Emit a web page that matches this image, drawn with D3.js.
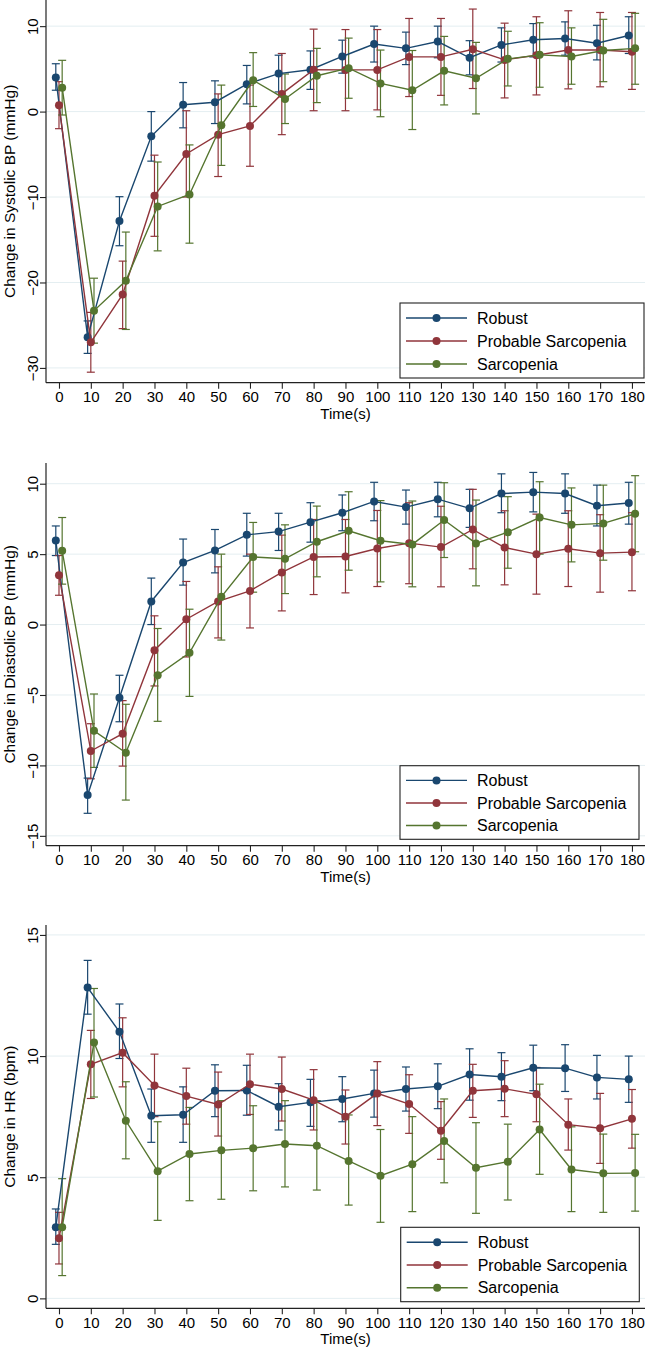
<!DOCTYPE html>
<html>
<head>
<meta charset="utf-8">
<script src="https://cdn.jsdelivr.net/npm/d3@7"></script>
<style>
  html, body { margin: 0; padding: 0; background: #fff; }
  svg { display: block; }
  text { font-family: "Liberation Sans", Arial, Helvetica, sans-serif; fill: #000; }
</style>
</head>
<body>
<svg id="chart" width="646" height="1355"></svg>
<script>
// ---------------- DATA ----------------
const times = [0,10,20,30,40,50,60,70,80,90,100,110,120,130,140,150,160,170,180];
const seriesNames = ["Robust", "Probable Sarcopenia", "Sarcopenia"];
const xTickLabels = [0,10,20,30,40,50,60,70,80,90,100,110,120,130,140,150,160,170,180];

// Systolic BP
const sbpRobust     = [4.0,-26.4,-12.8,-2.9,0.8,1.1,3.2,4.45,4.9,6.45,7.9,7.4,8.2,6.3,7.8,8.4,8.55,8.0,8.9];
const sbpRobustLo   = [2.5,-28.3,-15.7,-5.8,-1.9,-1.4,0.9,2.3,2.6,4.5,5.8,5.5,6.3,4.3,5.8,6.4,6.6,6.05,6.8];
const sbpRobustHi   = [5.6,-24.5,-9.96,0.0,3.4,3.6,5.4,6.6,7.1,8.36,10.0,9.3,10.0,8.3,9.8,10.3,10.5,10.1,11.1];
const sbpProbable   = [0.74,-27.0,-21.4,-9.84,-4.96,-2.7,-1.68,2.07,4.9,4.88,4.88,6.4,6.4,7.3,6.05,6.6,7.2,7.2,7.0];
const sbpProbableLo = [-2.0,-30.5,-25.4,-14.6,-10.0,-7.6,-6.4,-2.7,0.1,0.1,0.2,1.76,1.9,2.7,1.6,1.95,2.66,2.9,2.6];
const sbpProbableHi = [3.5,-23.5,-17.5,-5.1,0.1,2.07,3.1,6.8,9.65,9.6,9.6,10.9,10.9,12.0,10.35,11.1,11.8,11.6,11.6];
const sbpSarco      = [2.8,-23.3,-19.8,-11.1,-9.7,-1.6,3.67,1.48,4.2,5.08,3.3,2.5,4.77,3.9,6.17,6.64,6.45,7.15,7.4];
const sbpSarcoLo    = [-0.4,-27.1,-25.5,-16.3,-15.4,-6.3,0.6,-1.4,1.05,1.56,-0.6,-2.1,0.78,-0.27,3.0,2.85,3.2,3.5,3.2];
const sbpSarcoHi    = [6.0,-19.5,-14.1,-5.9,-3.9,3.1,6.9,4.4,7.4,8.6,7.2,7.15,8.8,8.1,9.4,10.4,9.8,10.8,11.5];

// Diastolic BP
const dbpRobust     = [5.97,-12.1,-5.2,1.64,4.4,5.26,6.37,6.6,7.27,7.94,8.74,8.34,8.9,8.25,9.3,9.4,9.3,8.44,8.63];
const dbpRobustLo   = [4.9,-13.4,-6.9,0.0,2.8,3.67,4.86,5.26,5.85,6.66,7.37,7.13,7.65,6.9,7.94,8.0,7.9,7.0,7.13];
const dbpRobustHi   = [7.0,-10.9,-3.6,3.3,6.07,6.75,7.9,7.9,8.65,9.2,10.1,9.55,10.1,9.6,10.7,10.8,10.7,9.9,10.1];
const dbpProbable   = [3.5,-8.98,-7.75,-1.82,0.38,1.64,2.39,3.7,4.8,4.83,5.4,5.78,5.5,6.75,5.47,5.0,5.38,5.07,5.14];
const dbpProbableLo = [2.08,-10.95,-10.05,-4.36,-2.3,-0.95,-0.24,0.97,2.13,2.25,2.7,2.9,2.68,3.96,2.82,2.16,2.7,2.3,2.4];
const dbpProbableHi = [4.9,-7.04,-5.4,0.62,3.06,4.1,5.0,6.35,7.46,7.46,8.1,8.65,8.4,9.6,8.08,7.84,8.08,7.8,7.94];
const dbpSarco      = [5.24,-7.54,-9.1,-3.6,-2.0,1.97,4.8,4.67,5.88,6.66,5.95,5.69,7.42,5.76,6.56,7.6,7.08,7.18,7.87];
const dbpSarcoLo    = [2.87,-10.14,-12.46,-6.87,-5.1,-1.1,2.3,2.2,3.39,3.86,3.03,2.68,4.76,2.75,4.0,5.0,4.45,4.57,5.17];
const dbpSarcoHi    = [7.6,-4.93,-5.66,-0.28,1.09,5.0,7.25,7.08,8.41,9.43,8.8,8.77,10.07,8.84,9.08,10.14,9.7,9.9,10.57];

// Heart rate
const hrRobust      = [2.94,12.83,11.0,7.54,7.58,8.57,8.58,7.91,8.09,8.23,8.46,8.64,8.75,9.24,9.15,9.52,9.5,9.12,9.04];
const hrRobustLo    = [2.23,11.73,9.9,6.44,6.44,7.5,7.56,6.95,7.1,7.29,7.48,7.73,7.83,8.18,8.16,8.57,8.54,8.23,8.09];
const hrRobustHi    = [3.69,13.95,12.15,8.64,8.73,9.64,9.62,8.86,9.04,9.15,9.42,9.55,9.68,10.3,10.14,10.45,10.47,10.03,10.0];
const hrProbable    = [2.48,9.66,10.14,8.79,8.35,8.0,8.84,8.64,8.18,7.5,8.46,8.02,6.92,8.57,8.65,8.42,7.17,7.02,7.41];
const hrProbableLo  = [1.42,8.25,8.73,7.5,7.19,6.7,7.59,7.32,6.95,6.37,7.13,6.81,5.74,7.47,7.5,7.29,6.12,5.57,6.2];
const hrProbableHi  = [3.55,11.06,11.58,10.08,9.5,9.34,10.08,9.96,9.44,8.6,9.77,9.23,8.12,9.66,9.81,9.53,8.23,8.46,8.62];
const hrSarco       = [2.94,10.56,7.33,5.25,5.96,6.11,6.2,6.37,6.3,5.67,5.06,5.54,6.49,5.39,5.64,6.97,5.32,5.16,5.17];
const hrSarcoLo     = [0.94,8.31,5.76,3.22,4.03,4.09,4.44,4.6,4.47,3.85,3.14,3.58,4.77,3.51,4.06,5.12,3.58,3.55,3.6];
const hrSarcoHi     = [4.94,12.79,8.94,7.29,7.88,8.16,7.95,8.16,8.16,7.57,6.97,7.5,8.23,7.25,7.19,8.84,7.08,6.78,6.77];

const yTicksSBP = [-30,-20,-10,0,10];
const yTicksDBP = [-15,-10,-5,0,5,10];
const yTicksHR  = [0,5,10,15];

// ---------------- STYLE / LAYOUT ----------------
const colors = ["#1a476f", "#90353b", "#55752f"];
const xOffsets = [-1, 0, 1];   // dodge in seconds, as in reference
const FONT = 15;

const panels = [
  { title: "Change in Systolic BP (mmHg)", ticks: yTicksSBP, domain: [-31.73, 13.06], top: 0, bottom: 382.7,
    series: [[sbpRobust,sbpRobustLo,sbpRobustHi],[sbpProbable,sbpProbableLo,sbpProbableHi],[sbpSarco,sbpSarcoLo,sbpSarcoHi]],
    legend: {x0: 400, x1: 644, y0: 303, y1: 378} },
  { title: "Change in Diastolic BP (mmHg)", ticks: yTicksDBP, domain: [-15.7, 11.47], top: 463, bottom: 845.7,
    series: [[dbpRobust,dbpRobustLo,dbpRobustHi],[dbpProbable,dbpProbableLo,dbpProbableHi],[dbpSarco,dbpSarcoLo,dbpSarcoHi]],
    legend: {x0: 400, x1: 639, y0: 765.7, y1: 839.3} },
  { title: "Change in HR (bpm)", ticks: yTicksHR, domain: [-0.41, 15.41], top: 925, bottom: 1308.3,
    series: [[hrRobust,hrRobustLo,hrRobustHi],[hrProbable,hrProbableLo,hrProbableHi],[hrSarco,hrSarcoLo,hrSarcoHi]],
    legend: {x0: 400.7, x1: 639.3, y0: 1227.3, y1: 1301.7} }
];

const plotLeft = 46, plotRight = 645;
const svg = d3.select("#chart");
const x = d3.scaleLinear().domain([-4.08, 184.1]).range([plotLeft, plotRight]);

panels.forEach(p => {
  const y = d3.scaleLinear().domain(p.domain).range([p.bottom, p.top]);
  const g = svg.append("g");

  // gridlines
  g.append("g").selectAll("line").data(p.ticks).join("line")
    .attr("x1", plotLeft).attr("x2", plotRight)
    .attr("y1", d => y(d)).attr("y2", d => y(d))
    .attr("stroke", "#e4eef1").attr("stroke-width", 1);

  // y axis
  const yAxis = g.append("g").attr("transform", `translate(${plotLeft},0)`)
    .call(d3.axisLeft(y).tickValues(p.ticks).tickSize(6).tickPadding(4).tickFormat(d3.format("d")));
  yAxis.select(".domain").attr("d", `M0,${p.top}V${p.bottom}`).attr("stroke", "#222").attr("stroke-width", 1.2);
  yAxis.selectAll(".tick line").attr("stroke", "#222").attr("stroke-width", 1.1);
  yAxis.selectAll(".tick text")
    .attr("font-size", FONT).attr("font-family", "Liberation Sans, Arial, sans-serif")
    .attr("x", null).attr("dy", null)
    .attr("text-anchor", "middle")
    .attr("transform", "translate(-13,0) rotate(-90)")
    .attr("dy", "0.35em").attr("fill", "#000");

  // x axis
  const xAxis = g.append("g").attr("transform", `translate(0,${p.bottom})`)
    .call(d3.axisBottom(x).tickValues(xTickLabels).tickSize(6).tickPadding(3).tickFormat(d3.format("d")));
  xAxis.select(".domain").attr("d", `M${plotLeft},0H${plotRight}`).attr("stroke", "#222").attr("stroke-width", 1.2);
  xAxis.selectAll(".tick line").attr("stroke", "#222").attr("stroke-width", 1.1);
  xAxis.selectAll(".tick text").attr("font-size", FONT)
    .attr("font-family", "Liberation Sans, Arial, sans-serif").attr("fill", "#000");

  // axis titles
  g.append("text").attr("x", (plotLeft + plotRight) / 2).attr("y", p.bottom + 36)
    .attr("text-anchor", "middle").attr("font-size", FONT).text("Time(s)");
  g.append("text")
    .attr("transform", `translate(10,${(p.top + p.bottom) / 2}) rotate(-90)`)
    .attr("text-anchor", "middle").attr("dy", "0.35em").attr("font-size", 15.5).text(p.title);

  // error bars
  p.series.forEach((s, si) => {
    const [mean, lo, hi] = s;
    const pts = times.map((t, i) => ({ t: t + xOffsets[si], m: mean[i], lo: lo[i], hi: hi[i] }));
    const sg = g.append("g");
    sg.selectAll("line.v").data(pts).join("line").attr("class", "v")
      .attr("x1", d => x(d.t)).attr("x2", d => x(d.t))
      .attr("y1", d => y(d.lo)).attr("y2", d => y(d.hi))
      .attr("stroke", colors[si]).attr("stroke-width", 1.2);
    ["lo", "hi"].forEach(k => {
      sg.selectAll("line.c" + k).data(pts).join("line").attr("class", "c" + k)
        .attr("x1", d => x(d.t) - 4).attr("x2", d => x(d.t) + 4)
        .attr("y1", d => y(d[k])).attr("y2", d => y(d[k]))
        .attr("stroke", colors[si]).attr("stroke-width", 1.2);
    });
  });
  // lines + markers
  p.series.forEach((s, si) => {
    const [mean] = s;
    const pts = times.map((t, i) => ({ t: t + xOffsets[si], m: mean[i] }));
    const sg = g.append("g");
    sg.append("path").datum(pts)
      .attr("d", d3.line().x(d => x(d.t)).y(d => y(d.m)))
      .attr("fill", "none").attr("stroke", colors[si]).attr("stroke-width", 1.4);
    sg.selectAll("circle").data(pts).join("circle")
      .attr("cx", d => x(d.t)).attr("cy", d => y(d.m)).attr("r", 4)
      .attr("fill", colors[si]);
  });

  // legend
  const L = p.legend;
  const lg = g.append("g");
  lg.append("rect").attr("x", L.x0).attr("y", L.y0).attr("width", L.x1 - L.x0).attr("height", L.y1 - L.y0)
    .attr("fill", "#fff").attr("stroke", "#222").attr("stroke-width", 1.1);
  const rowY = [15, 38, 61];
  seriesNames.forEach((name, si) => {
    const ry = L.y0 + rowY[si] * (L.y1 - L.y0) / 75;
    lg.append("line").attr("x1", L.x0 + 6).attr("x2", L.x0 + 67).attr("y1", ry).attr("y2", ry)
      .attr("stroke", colors[si]).attr("stroke-width", 1.4);
    lg.append("circle").attr("cx", L.x0 + 36.5).attr("cy", ry).attr("r", 4).attr("fill", colors[si]);
    lg.append("text").attr("x", L.x0 + 77).attr("y", ry).attr("dy", "0.35em")
      .attr("font-size", 16).text(name);
  });
});
</script>
</body>
</html>
